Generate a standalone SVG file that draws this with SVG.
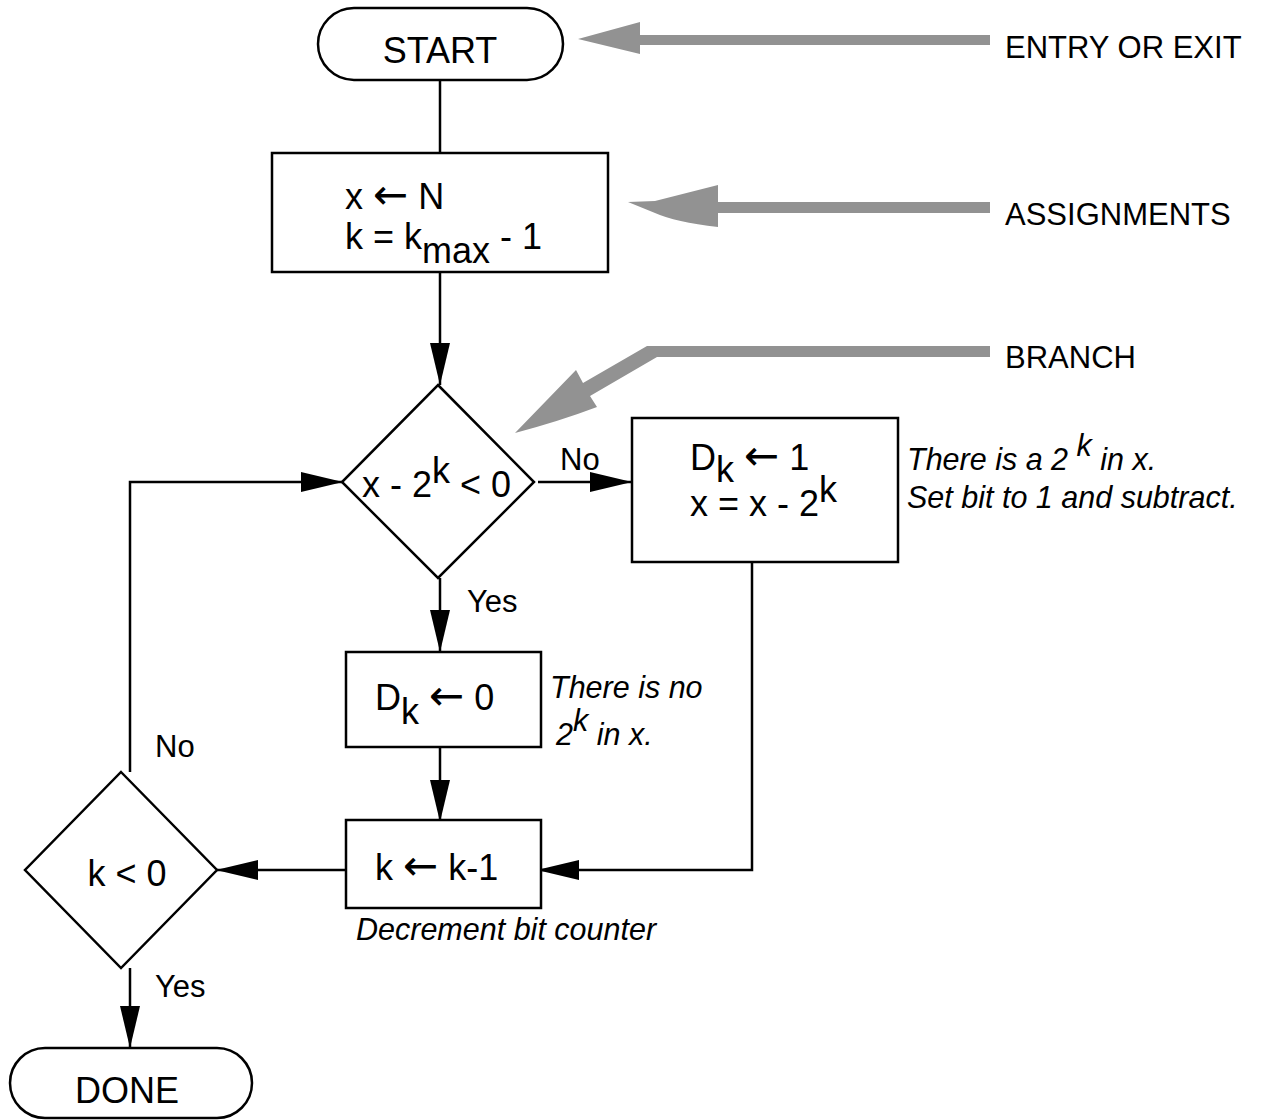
<svg xmlns="http://www.w3.org/2000/svg" width="1267" height="1120" viewBox="0 0 1267 1120">
<style>
.shape{fill:#fff;stroke:#000;stroke-width:2.5}
.t{font-family:"Liberation Sans",Arial,sans-serif;font-size:36px;fill:#000}
.ar{font-family:"DejaVu Sans","Liberation Sans",sans-serif;font-size:42px}
.lbl{font-family:"Liberation Sans",Arial,sans-serif;font-size:31px;fill:#000}
.it{font-family:"Liberation Sans",Arial,sans-serif;font-size:30.5px;font-style:italic;fill:#000}
.c{fill:none;stroke:#000;stroke-width:2.5}
.g{fill:#929292;stroke:none}
</style>
<defs>
<marker id="ah" markerUnits="userSpaceOnUse" markerWidth="42" markerHeight="20" refX="42" refY="10" orient="auto" viewBox="0 0 42 20">
<path d="M0,0 L42,10 L0,20 Z" fill="#000"/>
</marker>
</defs>
<rect width="1267" height="1120" fill="#fff"/>
<g id="connectors">
<path class="c" d="M440,80 L440,153"/>
<path class="c" d="M440,272 L440,385" marker-end="url(#ah)"/>
<path class="c" d="M538,482 L632,482" marker-end="url(#ah)"/>
<path class="c" d="M440,578 L440,652" marker-end="url(#ah)"/>
<path class="c" d="M440,747 L440,822" marker-end="url(#ah)"/>
<path class="c" d="M752,562 L752,870 L537,870" marker-end="url(#ah)"/>
<path class="c" d="M346,870 L216,870" marker-end="url(#ah)"/>
<path class="c" d="M130,772 L130,482 L343,482" marker-end="url(#ah)"/>
<path class="c" d="M130,968 L130,1048" marker-end="url(#ah)"/>
</g>
<g id="pointers">
<path class="g" d="M990,35 L640,35 L640,22 L578,39 L640,54 L640,45 L990,45 Z"/>
<path class="g" d="M628,202 L655,201 L718,185 L718,202 L990,202 L990,213 L718,213 L718,227 Q675,222 655,213 Z"/>
<path class="g" d="M990,346 L647,346 L583,383 L576,370 L515,433 Q560,421 597,407 L590,396 L657,357 L990,357 Z"/>
</g>
<g id="start">
<rect class="shape" x="318" y="8" width="245" height="72" rx="36" ry="36"/>
<text class="t" x="440" y="63" text-anchor="middle">START</text>
</g>
<g id="assign">
<rect class="shape" x="272" y="153" width="336" height="119"/>
<text class="t" x="345" y="209">x <tspan class="ar">←</tspan> N</text>
<text class="t" x="345" y="249">k = k<tspan dy="14">max</tspan><tspan dy="-14"> - 1</tspan></text>
</g>
<g id="branch1">
<polygon class="shape" points="438,385 534,482 438,578 342,482"/>
<text class="t" x="362" y="497">x - 2<tspan dy="-14">k</tspan><tspan dy="14"> &lt; 0</tspan></text>
</g>
<g id="setone">
<rect class="shape" x="632" y="418" width="266" height="144"/>
<text class="t" x="690" y="470">D<tspan dy="12">k</tspan><tspan dy="-12"> <tspan class="ar">←</tspan> 1</tspan></text>
<text class="t" x="690" y="516">x = x - 2<tspan dy="-14">k</tspan></text>
</g>
<g id="setzero">
<rect class="shape" x="346" y="652" width="195" height="95"/>
<text class="t" x="375" y="710">D<tspan dy="14">k</tspan><tspan dy="-14"> <tspan class="ar">←</tspan> 0</tspan></text>
</g>
<g id="decrement">
<rect class="shape" x="346" y="820" width="195" height="88"/>
<text class="t" x="375" y="880">k <tspan class="ar">←</tspan> k-1</text>
</g>
<g id="branch2">
<polygon class="shape" points="121,772 217,870 121,968 25,870"/>
<text class="t" x="127" y="886" text-anchor="middle">k &lt; 0</text>
</g>
<g id="done">
<rect class="shape" x="10" y="1048" width="242" height="70" rx="35" ry="35"/>
<text class="t" x="127" y="1103" text-anchor="middle">DONE</text>
</g>
<g id="labels">
<text class="lbl" x="1005" y="58">ENTRY OR EXIT</text>
<text class="lbl" x="1005" y="225">ASSIGNMENTS</text>
<text class="lbl" x="1005" y="368">BRANCH</text>
<text class="lbl" x="560" y="470">No</text>
<text class="lbl" x="467" y="612">Yes</text>
<text class="lbl" x="155" y="757">No</text>
<text class="lbl" x="155" y="997">Yes</text>
<text class="it" x="907" y="470">There is a 2 <tspan dy="-14">k</tspan><tspan dy="14"> in x.</tspan></text>
<text class="it" x="907" y="508">Set bit to 1 and subtract.</text>
<text class="it" x="550" y="698">There is no</text>
<text class="it" x="556" y="745"> 2<tspan dy="-14">k</tspan><tspan dy="14"> in x.</tspan></text>
<text class="it" x="356" y="940">Decrement bit counter</text>
</g>
</svg>
